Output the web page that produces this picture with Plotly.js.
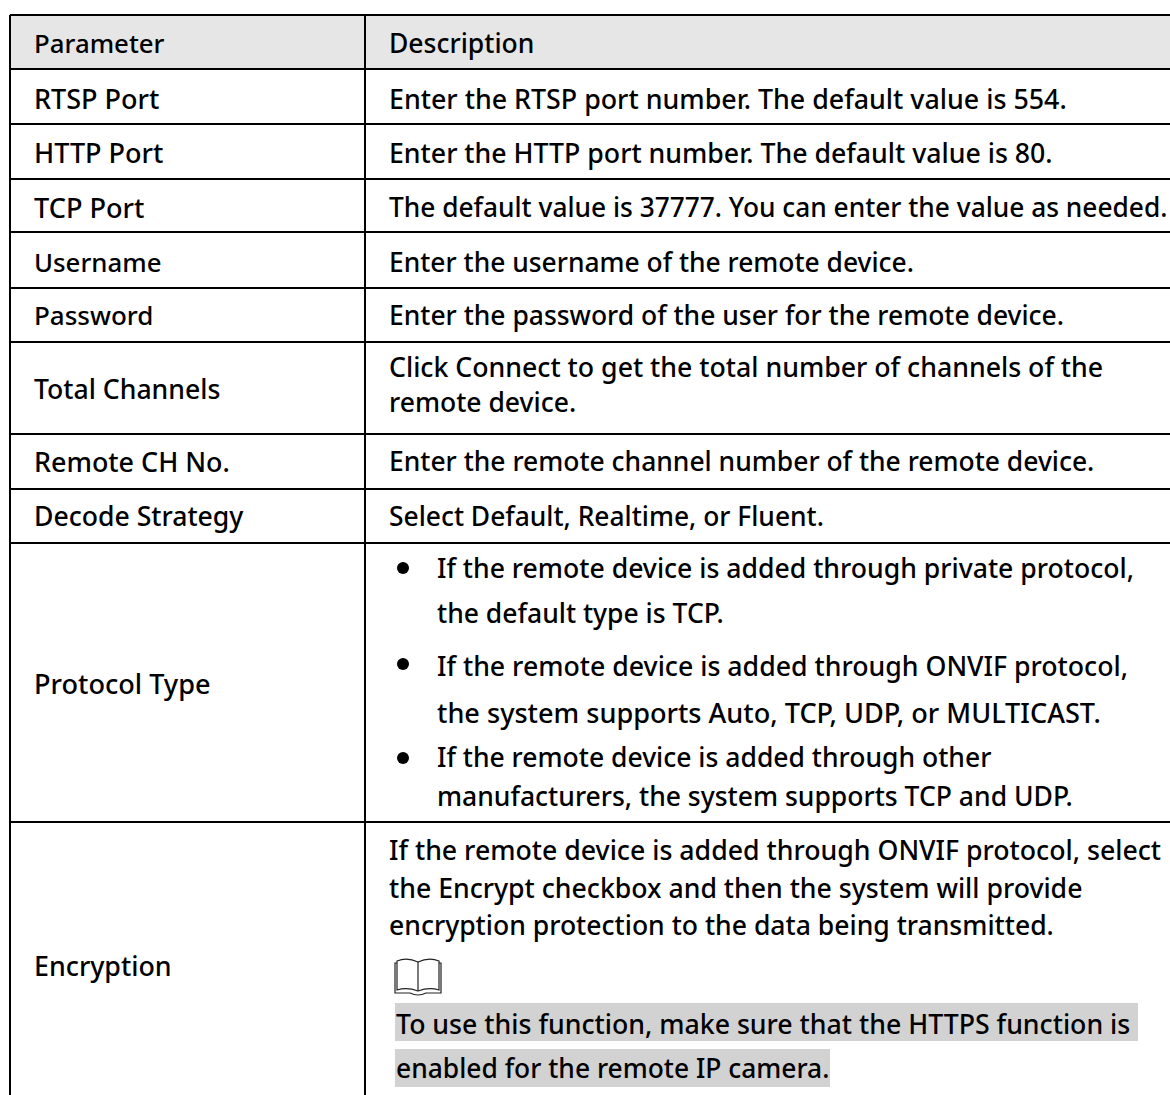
<!DOCTYPE html>
<html><head><meta charset="utf-8">
<script src="https://cdn.plot.ly/plotly-3.0.0.min.js"></script>
<style>html,body{margin:0;padding:0;background:#fff;overflow:hidden}</style>
</head><body><div id="chart" style="width:1170px;height:1095px"></div>
<script>
const parameters = ["Parameter","RTSP Port","HTTP Port","TCP Port","Username","Password","Total Channels","Remote CH No.","Decode Strategy","Protocol Type","Encryption"];
const descriptions = [
 "Description",
 "Enter the RTSP port number. The default value is 554.",
 "Enter the HTTP port number. The default value is 80.",
 "The default value is 37777. You can enter the value as needed.",
 "Enter the username of the remote device.",
 "Enter the password of the user for the remote device.",
 "Click Connect to get the total number of channels of the",
 "remote device.",
 "Enter the remote channel number of the remote device.",
 "Select Default, Realtime, or Fluent.",
 "If the remote device is added through private protocol,",
 "the default type is TCP.",
 "If the remote device is added through ONVIF protocol,",
 "the system supports Auto, TCP, UDP, or MULTICAST.",
 "If the remote device is added through other",
 "manufacturers, the system supports TCP and UDP.",
 "If the remote device is added through ONVIF protocol, select",
 "the Encrypt checkbox and then the system will provide",
 "encryption protection to the data being transmitted.",
 "To use this function, make sure that the HTTPS function is",
 "enabled for the remote IP camera."
];
const tableLeft = 10, columnSplit = 365, tableRight = 1170, tableTop = 15, tableBottom = 1095;
const rowEdges = [15, 69, 124, 179, 232, 288, 342, 434, 489, 543, 822, 1095];
const parameterY = [43, 98, 152, 207, 262, 315, 389, 461, 516, 683, 965];
const parameterSize = [25.8, 27, 27, 27.1, 25.8, 26, 26.6, 26.9, 26.6, 27.1, 26.8];
const descriptionX = [387.5,387.5,387.5,387.5,387.5,387.5,387.5,387.5,387.5,387.5,436,436,436,436,436,436,387.5,387.5,387.5,395,395];
const descriptionY = [43,98,152,207,262,315,366,402,461,516,568,613,665,712,757,796,849,888,925,1023,1068];
const descriptionSize = [26.5,26.8,26.7,26.3,26.4,26.45,26.7,26.5,26.45,26.4,26.6,26.5,26.7,27.1,26.5,26.5,26.7,26.65,26.55,26.7,26.4];
const bulletX = [403,403,403], bulletY = [568,664,758];
const textAnnotation = (text,x,y,size)=>({x,y,text,xref:'x',yref:'y',xanchor:'left',yanchor:'middle',showarrow:false,borderpad:0,
 font:{family:'"Noto Sans", "Open Sans", sans-serif',size,color:'#000',weight:500}});
const annotations = [
 ...parameters.map((t,i)=>textAnnotation(t,33,parameterY[i],parameterSize[i])),
 ...descriptions.map((t,i)=>textAnnotation(t,descriptionX[i],descriptionY[i],descriptionSize[i]))
];
const line = {color:'#000',width:2};
const book = {color:'#222',width:1.2};
const shapes = [
 {type:'rect',x0:tableLeft,x1:tableRight,y0:rowEdges[0],y1:rowEdges[1],fillcolor:'#e6e6e6',line:{width:0},layer:'below'},
 {type:'rect',x0:395,x1:1138,y0:1003,y1:1041,fillcolor:'#d2d2d2',line:{width:0},layer:'below'},
 {type:'rect',x0:395,x1:830,y0:1049,y1:1087,fillcolor:'#d2d2d2',line:{width:0},layer:'below'},
 {type:'line',x0:tableLeft,x1:tableLeft,y0:tableTop,y1:tableBottom,line},
 {type:'line',x0:columnSplit,x1:columnSplit,y0:tableTop,y1:tableBottom,line},
 {type:'path',path:'M397,961 Q407,957 418,962 Q429,957 439,961 L439,990 Q429,987 418,991 Q407,987 397,990 Z',line:book},
 {type:'path',path:'M418,962 L418,991',line:book},
 {type:'path',path:'M397,963 L395,963 L395,993 L410,993 Q418,997 426,993 L441,993 L441,963 L439,963',line:book}
];
rowEdges.slice(0,-1).forEach(y=>shapes.push({type:'line',x0:tableLeft,x1:tableRight,y0:y,y1:y,line}));
const data = [{type:'scatter',mode:'markers',x:bulletX,y:bulletY,marker:{size:12,color:'#000'},hoverinfo:'skip'}];
Plotly.newPlot('chart',data,{
 width:1170,height:1095,margin:{l:0,r:0,t:0,b:0},paper_bgcolor:'#fff',plot_bgcolor:'#fff',showlegend:false,
 xaxis:{range:[0,1170],visible:false,fixedrange:true},
 yaxis:{range:[1095,0],visible:false,fixedrange:true},
 annotations,shapes
},{displayModeBar:false,staticPlot:true});
</script></body></html>
